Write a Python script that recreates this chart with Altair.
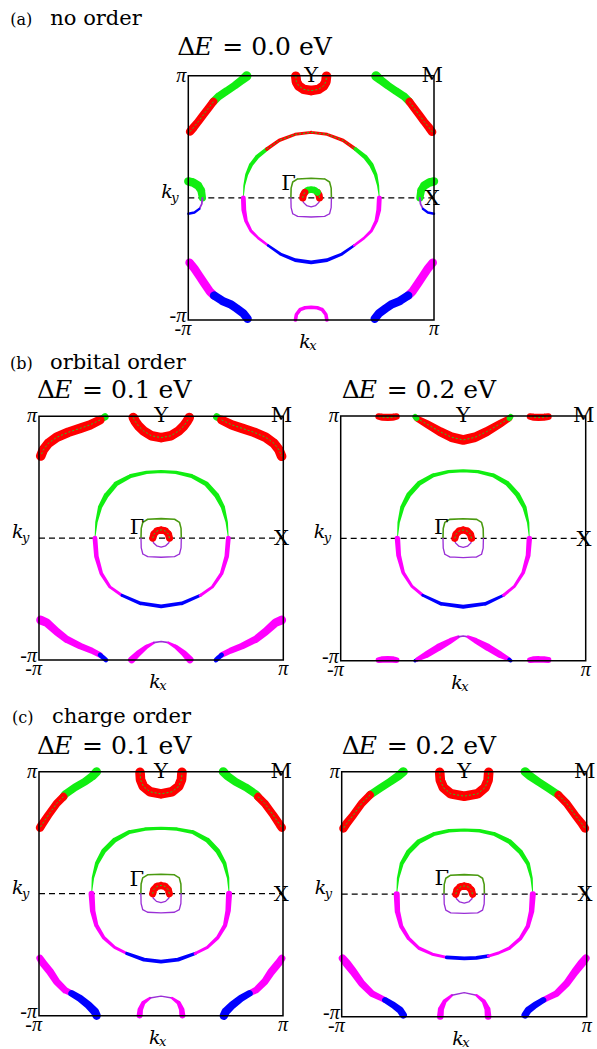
import altair as alt
import pandas as pd

FONT = "DejaVu Serif"
PI_FONT = "Liberation Serif"
ORB = ["R", "G", "B", "M", "P", "O"]
ORB_COLORS = ["#ff0000", "#11ee11", "#0000ff", "#ff00ff", "#9a2fd6", "#4a9a10"]

# ---- shared inner Gamma pockets (kx/pi, ky/pi, weight) ----
SQ_UP = [(-0.165, 0, 0.13), (-0.163, 0.08, 0.13), (-0.15, 0.13, 0.13), (-0.11, 0.155, 0.13), (0, 0.16, 0.13),
         (0.11, 0.155, 0.13), (0.15, 0.13, 0.13), (0.163, 0.08, 0.13), (0.165, 0, 0.13)]
SQ_LO = [(-0.165, 0, 0.11), (-0.163, -0.08, 0.11), (-0.15, -0.13, 0.11), (-0.11, -0.152, 0.11), (0, -0.157, 0.11),
         (0.11, -0.152, 0.11), (0.15, -0.13, 0.11), (0.163, -0.08, 0.11), (0.165, 0, 0.11)]
CIR_LO = [(0.073, 0, 0.11), (0.063, -0.037, 0.11), (0.037, -0.063, 0.11), (0, -0.073, 0.11),
          (-0.037, -0.063, 0.11), (-0.063, -0.037, 0.11), (-0.073, 0, 0.11)]
CIR_UP_RED = [(0.068, 0, 0.6), (0.059, 0.034, 0.6), (0.034, 0.059, 0.6), (0, 0.068, 0.6),
              (-0.034, 0.059, 0.6), (-0.059, 0.034, 0.6), (-0.068, 0, 0.6)]

# ---- (a) no order ----
PANEL_A = [
    ("R", [(-0.125, 0.995, 0.8), (-0.12, 0.95, 0.8), (-0.10, 0.915, 0.8), (-0.06, 0.888, 0.8), (0, 0.878, 0.8),
           (0.06, 0.888, 0.8), (0.10, 0.915, 0.8), (0.12, 0.95, 0.8), (0.125, 0.995, 0.8)]),
    ("G", [(-0.525, 0.997, 0.8), (-0.563, 0.965, 0.7), (-0.62, 0.921, 0.65), (-0.688, 0.874, 0.65), (-0.756, 0.828, 0.65), (-0.796, 0.787, 0.65)]),
    ("R", [(-0.796, 0.787, 0.65), (-0.837, 0.733, 0.65), (-0.878, 0.679, 0.65), (-0.919, 0.624, 0.65), (-0.959, 0.574, 0.7), (-0.986, 0.542, 0.7)]),
    ("G", [(0.528, 0.997, 0.8), (0.565, 0.965, 0.7), (0.622, 0.921, 0.65), (0.69, 0.874, 0.65), (0.76, 0.828, 0.65), (0.8, 0.787, 0.65)]),
    ("R", [(0.8, 0.787, 0.65), (0.84, 0.733, 0.65), (0.88, 0.679, 0.65), (0.92, 0.624, 0.65), (0.96, 0.574, 0.7), (0.985, 0.54, 0.7)]),
    ("G", [(-1.0, 0.135, 0.7), (-0.96, 0.125, 0.7), (-0.92, 0.10, 0.7), (-0.895, 0.06, 0.65), (-0.885, 0.0, 0.6)]),
    ("P", [(-0.885, 0.0, 0.15), (-0.89, -0.05, 0.15), (-0.91, -0.09, 0.15)]),
    ("B", [(-0.91, -0.09, 0.2), (-0.95, -0.12, 0.2), (-1.0, -0.13, 0.2)]),
    ("G", [(1.0, 0.135, 0.7), (0.96, 0.125, 0.7), (0.92, 0.10, 0.7), (0.895, 0.06, 0.65), (0.885, 0.0, 0.6)]),
    ("P", [(0.885, 0.0, 0.15), (0.89, -0.05, 0.15), (0.91, -0.09, 0.15)]),
    ("B", [(0.91, -0.09, 0.2), (0.95, -0.12, 0.2), (1.0, -0.13, 0.2)]),
    ("G", [(-0.552, 0, 0.05), (-0.545, 0.10, 0.15), (-0.525, 0.19, 0.25), (-0.49, 0.27, 0.33), (-0.44, 0.335, 0.35), (-0.36, 0.40, 0.3)]),
    ("R", [(-0.36, 0.40, 0.3), (-0.26, 0.47, 0.28), (-0.13, 0.52, 0.25), (0, 0.536, 0.25), (0.13, 0.52, 0.25), (0.26, 0.47, 0.28), (0.36, 0.40, 0.3)]),
    ("G", [(0.36, 0.40, 0.32), (0.44, 0.335, 0.38), (0.49, 0.27, 0.38), (0.525, 0.19, 0.3), (0.545, 0.10, 0.18), (0.555, 0, 0.05)]),
    ("M", [(-0.552, 0, 0.4), (-0.548, -0.10, 0.4), (-0.53, -0.19, 0.3), (-0.49, -0.27, 0.25), (-0.43, -0.33, 0.22), (-0.35, -0.39, 0.2)]),
    ("B", [(-0.35, -0.39, 0.22), (-0.25, -0.46, 0.25), (-0.13, -0.51, 0.3), (0, -0.528, 0.3), (0.13, -0.51, 0.3), (0.25, -0.46, 0.25), (0.35, -0.39, 0.22)]),
    ("M", [(0.35, -0.39, 0.2), (0.43, -0.33, 0.22), (0.49, -0.27, 0.25), (0.53, -0.19, 0.3), (0.55, -0.10, 0.4), (0.555, 0, 0.4)]),
    ("O", SQ_UP), ("P", SQ_LO), ("P", CIR_LO),
    ("R", [(0.068, 0, 0.6), (0.064, 0.023, 0.6), (0.052, 0.044, 0.6)]),
    ("G", [(0.052, 0.044, 0.55), (0.029, 0.062, 0.55), (0, 0.068, 0.55), (-0.029, 0.062, 0.55), (-0.052, 0.044, 0.55)]),
    ("R", [(-0.052, 0.044, 0.6), (-0.064, 0.023, 0.6), (-0.068, 0, 0.6)]),
    ("M", [(-0.128, -1.0, 0.3), (-0.12, -0.955, 0.3), (-0.09, -0.915, 0.3), (-0.05, -0.9, 0.3), (0, -0.896, 0.3),
           (0.05, -0.9, 0.3), (0.09, -0.915, 0.3), (0.12, -0.955, 0.3), (0.128, -1.0, 0.3)]),
    ("M", [(-0.99, -0.53, 0.7), (-0.95, -0.58, 0.7), (-0.91, -0.64, 0.7), (-0.87, -0.70, 0.7), (-0.824, -0.768, 0.7), (-0.79, -0.80, 0.7)]),
    ("B", [(-0.79, -0.80, 0.7), (-0.72, -0.845, 0.7), (-0.65, -0.875, 0.7), (-0.607, -0.905, 0.7), (-0.552, -0.946, 0.7), (-0.517, -0.99, 0.7)]),
    ("M", [(0.99, -0.53, 0.7), (0.95, -0.58, 0.7), (0.91, -0.64, 0.7), (0.87, -0.70, 0.7), (0.824, -0.768, 0.7), (0.79, -0.80, 0.7)]),
    ("B", [(0.79, -0.80, 0.7), (0.72, -0.845, 0.7), (0.65, -0.875, 0.7), (0.607, -0.905, 0.7), (0.552, -0.946, 0.7), (0.517, -0.99, 0.7)]),
]

# ---- (b) orbital order, dE = 0.1 eV ----
PANEL_B1 = [
    ("R", [(-0.228, 0.99, 0.8), (-0.21, 0.955, 0.8), (-0.185, 0.92, 0.8), (-0.146, 0.882, 0.8), (-0.08, 0.84, 0.8), (0, 0.825, 0.8),
           (0.08, 0.84, 0.8), (0.146, 0.882, 0.8), (0.185, 0.92, 0.8), (0.21, 0.955, 0.8), (0.23, 0.99, 0.8)]),
    ("G", [(-0.46, 0.995, 0.6), (-0.50, 0.97, 0.5)]),
    ("R", [(-0.50, 0.97, 0.75), (-0.583, 0.929, 0.8), (-0.664, 0.901, 0.8), (-0.76, 0.869, 0.8), (-0.855, 0.828, 0.8), (-0.924, 0.778, 0.8), (-0.965, 0.724, 0.8), (-0.986, 0.674, 0.8)]),
    ("G", [(0.455, 0.995, 0.6), (0.495, 0.97, 0.5)]),
    ("R", [(0.495, 0.97, 0.75), (0.58, 0.929, 0.8), (0.664, 0.901, 0.8), (0.76, 0.869, 0.8), (0.855, 0.828, 0.8), (0.924, 0.778, 0.8), (0.965, 0.724, 0.8), (0.986, 0.672, 0.8)]),
    ("G", [(-0.542, 0, 0.05), (-0.53, 0.13, 0.2), (-0.50, 0.255, 0.35), (-0.45, 0.35, 0.42), (-0.37, 0.445, 0.4), (-0.25, 0.51, 0.33), (-0.12, 0.54, 0.28), (0, 0.546, 0.25),
           (0.12, 0.54, 0.28), (0.25, 0.51, 0.33), (0.37, 0.445, 0.4), (0.455, 0.35, 0.42), (0.505, 0.255, 0.35), (0.537, 0.13, 0.2), (0.55, 0, 0.05)]),
    ("M", [(-0.542, 0, 0.4), (-0.53, -0.15, 0.38), (-0.49, -0.29, 0.3), (-0.42, -0.40, 0.25), (-0.32, -0.47, 0.25)]),
    ("B", [(-0.32, -0.47, 0.25), (-0.17, -0.535, 0.3), (0, -0.56, 0.32), (0.17, -0.535, 0.3), (0.32, -0.47, 0.25)]),
    ("M", [(0.32, -0.47, 0.25), (0.42, -0.40, 0.25), (0.495, -0.29, 0.3), (0.537, -0.15, 0.38), (0.55, 0, 0.4)]),
    ("O", SQ_UP), ("P", SQ_LO), ("P", CIR_LO), ("R", CIR_UP_RED),
    ("M", [(-0.241, -0.998, 0.6), (-0.187, -0.946, 0.5), (-0.119, -0.891, 0.35), (-0.06, -0.858, 0.2)]),
    ("P", [(-0.06, -0.858, 0.15), (0, -0.848, 0.12), (0.06, -0.858, 0.15)]),
    ("M", [(0.06, -0.858, 0.2), (0.119, -0.891, 0.35), (0.187, -0.946, 0.5), (0.236, -0.998, 0.6)]),
    ("M", [(-0.986, -0.672, 0.75), (-0.937, -0.693, 0.7), (-0.855, -0.767, 0.65), (-0.774, -0.83, 0.6), (-0.664, -0.885, 0.55), (-0.569, -0.923, 0.5), (-0.50, -0.959, 0.45)]),
    ("B", [(-0.50, -0.959, 0.4), (-0.475, -0.98, 0.4), (-0.452, -1.0, 0.4)]),
    ("M", [(0.986, -0.672, 0.75), (0.937, -0.693, 0.7), (0.855, -0.767, 0.65), (0.774, -0.83, 0.6), (0.664, -0.885, 0.55), (0.569, -0.923, 0.5), (0.495, -0.959, 0.45)]),
    ("B", [(0.495, -0.959, 0.4), (0.47, -0.98, 0.4), (0.449, -1.0, 0.4)]),
]

# ---- (b) orbital order, dE = 0.2 eV ----
PANEL_B2 = [
    ("R", [(-0.38, 0.981, 0.5), (-0.298, 0.935, 0.65), (-0.189, 0.872, 0.75), (-0.094, 0.826, 0.8), (0, 0.804, 0.8),
           (0.097, 0.826, 0.8), (0.192, 0.872, 0.75), (0.30, 0.935, 0.65), (0.377, 0.981, 0.5)]),
    ("G", [(-0.393, 0.995, 0.45), (-0.38, 0.981, 0.45)]),
    ("G", [(0.377, 0.981, 0.45), (0.388, 0.995, 0.45)]),
    ("R", [(-0.69, 0.995, 0.55), (-0.66, 0.99, 0.6), (-0.615, 0.988, 0.6), (-0.575, 0.99, 0.6), (-0.545, 0.995, 0.55)]),
    ("R", [(0.546, 0.995, 0.55), (0.575, 0.99, 0.6), (0.615, 0.988, 0.6), (0.66, 0.99, 0.6), (0.695, 0.995, 0.55)]),
    ("G", [(-0.537, 0, 0.05), (-0.527, 0.13, 0.2), (-0.497, 0.255, 0.35), (-0.445, 0.355, 0.42), (-0.36, 0.45, 0.4), (-0.245, 0.515, 0.33), (-0.12, 0.545, 0.28), (0, 0.553, 0.25),
           (0.12, 0.545, 0.28), (0.245, 0.515, 0.33), (0.36, 0.45, 0.4), (0.445, 0.355, 0.42), (0.5, 0.255, 0.35), (0.53, 0.13, 0.2), (0.54, 0, 0.05)]),
    ("M", [(-0.537, 0, 0.45), (-0.527, -0.14, 0.4), (-0.49, -0.28, 0.3), (-0.42, -0.39, 0.25), (-0.33, -0.465, 0.25)]),
    ("B", [(-0.33, -0.465, 0.25), (-0.18, -0.535, 0.3), (0, -0.559, 0.32), (0.18, -0.535, 0.3), (0.33, -0.465, 0.25)]),
    ("M", [(0.33, -0.465, 0.25), (0.42, -0.39, 0.25), (0.49, -0.28, 0.3), (0.53, -0.14, 0.4), (0.54, 0, 0.45)]),
    ("O", SQ_UP), ("P", SQ_LO), ("P", CIR_LO), ("R", CIR_UP_RED),
    ("B", [(-0.393, -1.0, 0.3), (-0.375, -0.99, 0.3)]),
    ("M", [(-0.375, -0.99, 0.35), (-0.30, -0.95, 0.55), (-0.20, -0.89, 0.6), (-0.10, -0.835, 0.45), (-0.04, -0.805, 0.25)]),
    ("P", [(-0.04, -0.805, 0.15), (0, -0.798, 0.12), (0.04, -0.805, 0.15)]),
    ("M", [(0.04, -0.805, 0.25), (0.10, -0.835, 0.45), (0.20, -0.89, 0.6), (0.30, -0.95, 0.55), (0.375, -0.99, 0.35)]),
    ("B", [(0.375, -0.99, 0.3), (0.388, -1.0, 0.3)]),
    ("M", [(-0.69, -0.995, 0.5), (-0.66, -0.99, 0.55), (-0.615, -0.988, 0.55), (-0.575, -0.99, 0.55), (-0.545, -0.995, 0.5)]),
    ("M", [(0.546, -0.995, 0.5), (0.575, -0.99, 0.55), (0.615, -0.988, 0.55), (0.66, -0.99, 0.55), (0.695, -0.995, 0.5)]),
]

# ---- (c) charge order, dE = 0.1 eV ----
PANEL_C1 = [
    ("R", [(-0.172, 0.995, 0.8), (-0.168, 0.935, 0.8), (-0.145, 0.88, 0.8), (-0.09, 0.835, 0.8), (0, 0.818, 0.8),
           (0.09, 0.835, 0.8), (0.145, 0.88, 0.8), (0.168, 0.935, 0.8), (0.172, 0.995, 0.8)]),
    ("G", [(-0.528, 1.0, 0.75), (-0.561, 0.964, 0.7), (-0.623, 0.918, 0.65), (-0.705, 0.872, 0.65), (-0.787, 0.814, 0.65), (-0.80, 0.795, 0.65)]),
    ("R", [(-0.80, 0.795, 0.65), (-0.855, 0.74, 0.65), (-0.923, 0.645, 0.65), (-0.978, 0.563, 0.7), (-0.992, 0.541, 0.7)]),
    ("G", [(0.51, 1.0, 0.75), (0.545, 0.964, 0.7), (0.61, 0.918, 0.65), (0.695, 0.872, 0.65), (0.78, 0.814, 0.65), (0.795, 0.795, 0.65)]),
    ("R", [(0.795, 0.795, 0.65), (0.85, 0.74, 0.65), (0.92, 0.645, 0.65), (0.975, 0.563, 0.7), (0.99, 0.541, 0.7)]),
    ("G", [(-0.569, 0, 0.05), (-0.558, 0.13, 0.2), (-0.525, 0.25, 0.33), (-0.47, 0.35, 0.4), (-0.38, 0.44, 0.4), (-0.26, 0.505, 0.33), (-0.13, 0.53, 0.28), (0, 0.536, 0.25),
           (0.13, 0.53, 0.28), (0.26, 0.505, 0.33), (0.38, 0.44, 0.4), (0.465, 0.35, 0.4), (0.52, 0.25, 0.33), (0.55, 0.13, 0.2), (0.558, 0, 0.05)]),
    ("M", [(-0.569, 0, 0.5), (-0.56, -0.14, 0.45), (-0.53, -0.26, 0.35), (-0.47, -0.36, 0.3), (-0.38, -0.44, 0.25), (-0.28, -0.49, 0.25)]),
    ("B", [(-0.28, -0.49, 0.28), (-0.14, -0.54, 0.32), (0, -0.557, 0.32), (0.14, -0.54, 0.32), (0.28, -0.49, 0.28)]),
    ("M", [(0.28, -0.49, 0.25), (0.38, -0.44, 0.25), (0.465, -0.36, 0.3), (0.525, -0.26, 0.35), (0.55, -0.14, 0.45), (0.558, 0, 0.5)]),
    ("O", SQ_UP), ("P", SQ_LO), ("P", CIR_LO), ("R", CIR_UP_RED),
    ("M", [(-0.175, -0.998, 0.5), (-0.17, -0.95, 0.45), (-0.145, -0.895, 0.35), (-0.09, -0.855, 0.2)]),
    ("P", [(-0.09, -0.855, 0.12), (0, -0.839, 0.1), (0.09, -0.855, 0.12)]),
    ("M", [(0.09, -0.855, 0.2), (0.145, -0.895, 0.35), (0.17, -0.95, 0.45), (0.175, -0.998, 0.5)]),
    ("M", [(-0.992, -0.53, 0.6), (-0.965, -0.571, 0.65), (-0.91, -0.639, 0.65), (-0.855, -0.721, 0.6), (-0.787, -0.79, 0.55), (-0.733, -0.817, 0.5)]),
    ("B", [(-0.733, -0.817, 0.55), (-0.664, -0.858, 0.6), (-0.596, -0.913, 0.65), (-0.542, -0.967, 0.7), (-0.528, -1.0, 0.7)]),
    ("M", [(0.99, -0.53, 0.6), (0.962, -0.571, 0.65), (0.905, -0.639, 0.65), (0.85, -0.721, 0.6), (0.78, -0.79, 0.55), (0.725, -0.817, 0.5)]),
    ("B", [(0.725, -0.817, 0.55), (0.655, -0.858, 0.6), (0.585, -0.913, 0.65), (0.53, -0.967, 0.7), (0.515, -1.0, 0.7)]),
]

# ---- (c) charge order, dE = 0.2 eV ----
PANEL_C2 = [
    ("R", [(-0.20, 0.995, 0.8), (-0.195, 0.93, 0.8), (-0.17, 0.87, 0.8), (-0.11, 0.82, 0.8), (0, 0.80, 0.8),
           (0.11, 0.82, 0.8), (0.17, 0.87, 0.8), (0.195, 0.93, 0.8), (0.20, 0.995, 0.8)]),
    ("G", [(-0.497, 1.0, 0.75), (-0.537, 0.965, 0.7), (-0.605, 0.918, 0.65), (-0.687, 0.864, 0.65), (-0.769, 0.81, 0.65)]),
    ("R", [(-0.769, 0.81, 0.65), (-0.837, 0.741, 0.65), (-0.905, 0.646, 0.65), (-0.959, 0.578, 0.7), (-0.986, 0.537, 0.7)]),
    ("G", [(0.497, 1.0, 0.75), (0.537, 0.965, 0.7), (0.605, 0.918, 0.65), (0.687, 0.864, 0.65), (0.769, 0.81, 0.65)]),
    ("R", [(0.769, 0.81, 0.65), (0.837, 0.741, 0.65), (0.905, 0.646, 0.65), (0.959, 0.578, 0.7), (0.986, 0.537, 0.7)]),
    ("G", [(-0.551, 0, 0.05), (-0.54, 0.13, 0.2), (-0.51, 0.25, 0.33), (-0.455, 0.345, 0.4), (-0.37, 0.43, 0.4), (-0.25, 0.49, 0.33), (-0.125, 0.518, 0.28), (0, 0.524, 0.25),
           (0.125, 0.518, 0.28), (0.25, 0.49, 0.33), (0.37, 0.43, 0.4), (0.46, 0.345, 0.4), (0.52, 0.25, 0.33), (0.55, 0.13, 0.2), (0.56, 0, 0.05)]),
    ("M", [(-0.551, 0, 0.5), (-0.545, -0.14, 0.45), (-0.515, -0.26, 0.35), (-0.455, -0.36, 0.3), (-0.37, -0.44, 0.28), (-0.26, -0.49, 0.25), (-0.143, -0.516, 0.25)]),
    ("B", [(-0.143, -0.516, 0.3), (0, -0.524, 0.3), (0.1, -0.52, 0.3), (0.197, -0.505, 0.3)]),
    ("M", [(0.197, -0.505, 0.25), (0.28, -0.48, 0.25), (0.37, -0.44, 0.28), (0.46, -0.36, 0.3), (0.52, -0.26, 0.35), (0.55, -0.14, 0.45), (0.56, 0, 0.5)]),
    ("O", SQ_UP), ("P", SQ_LO), ("P", CIR_LO), ("R", CIR_UP_RED),
    ("M", [(-0.195, -0.998, 0.55), (-0.19, -0.94, 0.5), (-0.16, -0.875, 0.35), (-0.10, -0.825, 0.2)]),
    ("P", [(-0.10, -0.825, 0.12), (0, -0.804, 0.1), (0.10, -0.825, 0.12)]),
    ("M", [(0.10, -0.825, 0.2), (0.16, -0.875, 0.35), (0.19, -0.94, 0.5), (0.195, -0.998, 0.55)]),
    ("M", [(-0.992, -0.524, 0.65), (-0.959, -0.565, 0.7), (-0.905, -0.633, 0.65), (-0.837, -0.728, 0.6), (-0.755, -0.81, 0.55), (-0.673, -0.85, 0.5), (-0.646, -0.864, 0.5)]),
    ("B", [(-0.646, -0.864, 0.5), (-0.578, -0.905, 0.55), (-0.524, -0.946, 0.6), (-0.497, -0.986, 0.6)]),
    ("M", [(0.992, -0.524, 0.65), (0.959, -0.565, 0.7), (0.905, -0.633, 0.65), (0.837, -0.728, 0.6), (0.755, -0.81, 0.55), (0.673, -0.85, 0.5), (0.646, -0.864, 0.5)]),
    ("B", [(0.646, -0.864, 0.5), (0.578, -0.905, 0.55), (0.524, -0.946, 0.6), (0.497, -0.986, 0.6)]),
]

SYM_LABELS = ["Y", "M", "X", "Γ"]
TICK_PI, TICK_MPI = "π", "-π"

# layout: pixel box (left, right, top, bottom) of each panel's plot area in the 597x1049 page
BOX_A = (188.3, 434.0, 75.7, 320.0)
BOX_B1 = (39.0, 283.3, 416.3, 660.0)
BOX_B2 = (340.7, 585.7, 416.0, 660.7)
BOX_C1 = (39.0, 283.0, 771.7, 1015.7)
BOX_C2 = (341.7, 586.7, 771.7, 1016.7)


def panel(curves, box, gamma, de_val, de_dx, de_dy, header=None):
    x0, x1, y0, y1 = box
    kxs = alt.Scale(domain=[-1, 1], range=[x0, x1], nice=False, zero=False)
    kys = alt.Scale(domain=[-1, 1], range=[y1, y0], nice=False, zero=False)
    xe = alt.X("kx:Q", scale=kxs, axis=None)
    ye = alt.Y("ky:Q", scale=kys, axis=None)

    def txt(s, kx, ky, dx, dy, size, align="left", italic=False, font=FONT):
        return alt.Chart(pd.DataFrame({"kx": [kx], "ky": [ky], "t": [s]})).mark_text(
            font=font, fontSize=size, align=align, baseline="alphabetic", dx=dx, dy=dy,
            fontStyle="italic" if italic else "normal", color="black"
        ).encode(x=xe, y=ye, text="t:N")

    rows = []
    for cid, (orb, pts) in enumerate(curves):
        for i, (x, y, w) in enumerate(pts):
            rows.append({"c": cid, "orb": orb, "kx": x, "ky": y, "w": w, "i": i})
    df = pd.DataFrame(rows)

    frame = alt.Chart(pd.DataFrame({"kx": [-1.0], "kx2": [1.0], "ky": [-1.0], "ky2": [1.0]})).mark_rect(
        fillOpacity=0, stroke="black", strokeWidth=1.5).encode(x=xe, x2="kx2:Q", y=ye, y2="ky2:Q")
    dash = alt.Chart(pd.DataFrame({"kx": [-1.0], "kx2": [1.0], "ky": [0.0]})).mark_rule(
        color="black", strokeWidth=1.3, strokeDash=[6, 4]).encode(x=xe, x2="kx2:Q", y=ye)
    trail = alt.Chart(df).mark_trail().encode(
        x=xe, y=ye,
        size=alt.Size("w:Q", scale=alt.Scale(domain=[0, 1], range=[0, 12]), legend=None),
        color=alt.Color("orb:N", scale=alt.Scale(domain=ORB, range=ORB_COLORS), legend=None),
        detail="c:N", order="i:Q")
    center = alt.Chart(df).transform_filter(alt.datum.orb == "R").mark_line(
        color="#22cc22", strokeWidth=1, strokeDash=[2, 2]).encode(x=xe, y=ye, detail="c:N", order="i:Q")
    sym = pd.DataFrame({"kx": [0.0, 0.985, 0.985, gamma[0]], "ky": [1.0, 1.0, -0.01, gamma[1]], "t": SYM_LABELS})
    lab = alt.Chart(sym).mark_text(font=FONT, fontSize=21, align="center", baseline="middle", color="black").encode(
        x=xe, y=ye, text="t:N")
    texts = [
        txt(TICK_PI, -1, 1, -2, 6, 20, "right", True, PI_FONT),
        txt(TICK_MPI, -1, -1, -2, 2, 20, "right", True, PI_FONT),
        txt(TICK_MPI, -1, -1, 3, 15, 20, "right", True, PI_FONT),
        txt(TICK_PI, 1, -1, 0, 15, 20, "center", True, PI_FONT),
        txt("k", -1, 0, -27, 0, 19, italic=True),
        txt("y", -1, 0, -17, 4, 13, italic=True),
        txt("k", 0, -1, -12, 28, 19, italic=True),
        txt("x", 0, -1, -2, 30, 13, italic=True),
        txt("Δ", -1, 1, de_dx, de_dy, 25),
        txt("E", -1, 1, de_dx + 17, de_dy, 25, italic=True),
        txt("= " + de_val + " eV", -1, 1, de_dx + 45, de_dy, 25),
    ]
    if header:
        letter, name, hx, hdy = header
        texts += [txt(letter, -1, 1, hx, hdy, 16), txt(name, -1, 1, hx + 40, hdy, 21)]
    return alt.layer(dash, trail, center, frame, lab, *texts)


pa = panel(PANEL_A, BOX_A, (-0.185, 0.117), "0.0", -11, -21, ("(a)", "no order", -178, -51))
pb1 = panel(PANEL_B1, BOX_B1, (-0.198, 0.083), "0.1", -2, -18, ("(b)", "orbital order", -29, -47))
pb2 = panel(PANEL_B2, BOX_B2, (-0.178, 0.082), "0.2", 1, -18)
pc1 = panel(PANEL_C1, BOX_C1, (-0.198, 0.112), "0.1", -2, -18, ("(c)", "charge order", -27, -49))
pc2 = panel(PANEL_C2, BOX_C2, (-0.184, 0.124), "0.2", 0, -18)

chart = alt.layer(pa, pb1, pb2, pc1, pc2).resolve_scale(x="independent", y="independent").properties(
    width=597, height=1049, padding=0, autosize=alt.AutoSizeParams(type="none"), background="white"
).configure_view(strokeWidth=0)

chart.save("out.html", embed_options={"renderer": "svg", "actions": False})
